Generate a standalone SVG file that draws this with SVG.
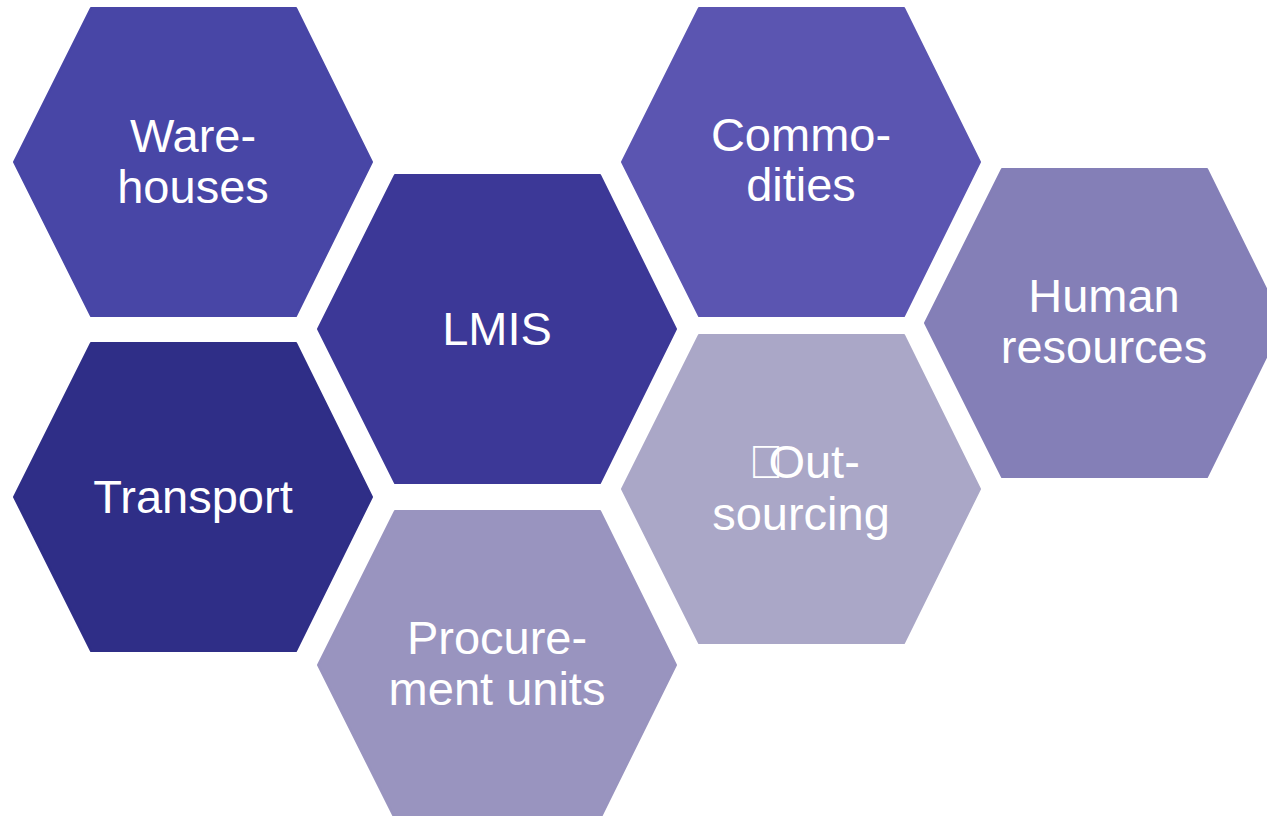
<svg xmlns="http://www.w3.org/2000/svg" width="1267" height="816" viewBox="0 0 1267 816">
<style>
.hex{stroke-linejoin:round;stroke-width:2}
.lbl{font-family:"Liberation Sans",Arial,sans-serif;font-size:47px;fill:#ffffff;text-anchor:middle}
</style>
<defs>
<polygon id="hx" points="-102,-154 103,-154 179,0 103,154 -102,154 -179,0"/>
</defs>
<rect width="1267" height="816" fill="#ffffff"/>
<g id="warehouses" transform="translate(193,162)">
<use href="#hx" fill="#4846A6" stroke="#4846A6" class="hex"/>
<text class="lbl" x="0" y="-10">Ware-</text>
<text class="lbl" x="0" y="41">houses</text>
</g>
<g id="lmis" transform="translate(497,329)">
<use href="#hx" fill="#3C3897" stroke="#3C3897" class="hex"/>
<text class="lbl" x="0" y="16">LMIS</text>
</g>
<g id="transport" transform="translate(193,497)">
<use href="#hx" fill="#2F2E87" stroke="#2F2E87" class="hex"/>
<text class="lbl" x="0" y="16">Transport</text>
</g>
<g id="procurement" transform="translate(497,665)">
<use href="#hx" fill="#9994BF" stroke="#9994BF" class="hex"/>
<text class="lbl" x="0" y="-11">Procure-</text>
<text class="lbl" x="0" y="40">ment units</text>
</g>
<g id="commodities" transform="translate(801,162)">
<use href="#hx" fill="#5B55B1" stroke="#5B55B1" class="hex"/>
<text class="lbl" x="0" y="-11">Commo-</text>
<text class="lbl" x="0" y="39">dities</text>
</g>
<g id="outsourcing" transform="translate(801,489)">
<use href="#hx" fill="#AAA7C7" stroke="#AAA7C7" class="hex"/>
<text class="lbl" x="3" y="-11">&#xF0A7;<tspan dx="-15">Out-</tspan></text>
<text class="lbl" x="0" y="41">sourcing</text>
</g>
<g id="human-resources" transform="translate(1104,323)">
<use href="#hx" fill="#847FB7" stroke="#847FB7" class="hex"/>
<text class="lbl" x="0" y="-11">Human</text>
<text class="lbl" x="0" y="40">resources</text>
</g>
</svg>
